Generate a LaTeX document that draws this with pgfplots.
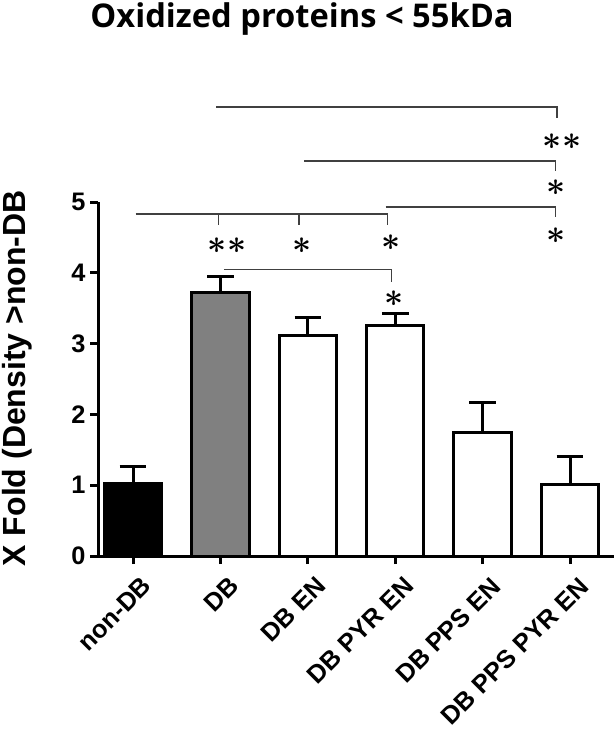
\documentclass[border=0pt]{standalone}
\usepackage{fontspec}
\setmainfont{Liberation Sans}
\newfontfamily\titlefont{Open Sans}
\usepackage{pgfplots}
\pgfplotsset{compat=1.18}

% one px of the reference = 0.75pt
\newcommand\sig{{\fontsize{32}{32}\selectfont\boldmath$\ast$}}
\pgfplotsset{
  sembar/.style={draw=black, line width=2.25pt, bar shift=0pt,
    error bars/.cd, y dir=plus, y explicit,
    error bar style={line width=2.25pt, black},
    error mark options={rotate=90, mark size=10pt, line width=2.25pt, black},
    /pgfplots/.cd},
}
\tikzset{sigline/.style={line width=1pt, black!75}}

\begin{document}
\begin{tikzpicture}
\begin{axis}[
  x=65.55pt, y=53.1pt,
  xmin=-0.4, xmax=5.5, ymin=0, ymax=5,
  enlargelimits=false,
  axis lines=left,
  axis line style={-, line width=2.25pt},
  clip=false,
  ybar, bar width=43pt,
  xtick={0,...,5},
  xticklabels={non-DB, DB, DB EN, DB PYR EN, DB PPS EN, DB PPS PYR EN},
  ytick={0,...,5},
  tick align=outside,
  major tick length=6pt,
  tick style={line width=2.25pt, black},
  /pgf/number format/assume math mode=true,
  ticklabel style={font=\bfseries\fontsize{19}{20}\selectfont},
  x tick label style={rotate=45, anchor=north east, inner sep=0pt, yshift=-10pt, xshift=-2pt},
]
\addplot[sembar, fill=black] coordinates {(0,1.02) +- (0,0.25)};
\addplot[sembar, fill=black!50] coordinates {(1,3.72) +- (0,0.23)};
\addplot[sembar, fill=white] coordinates {(2,3.12) +- (0,0.25) (3,3.26) +- (0,0.16) (4,1.75) +- (0,0.42) (5,1.01) +- (0,0.39)};

% significance brackets
\draw[sigline] (axis cs:0.03,4.83) -- (axis cs:2.91,4.83) -- (axis cs:2.91,4.67);
\draw[sigline] (axis cs:0.98,4.83) -- (axis cs:0.98,4.67);
\draw[sigline] (axis cs:1.90,4.83) -- (axis cs:1.90,4.67);
\draw[sigline] (axis cs:1.04,4.05) -- (axis cs:2.96,4.05) -- (axis cs:2.96,3.87);
\draw[sigline] (axis cs:2.89,4.93) -- (axis cs:4.83,4.93) -- (axis cs:4.83,4.79);
\draw[sigline] (axis cs:1.96,5.58) -- (axis cs:4.83,5.58) -- (axis cs:4.83,5.44);
\draw[sigline] (axis cs:0.95,6.34) -- (axis cs:4.85,6.34) -- (axis cs:4.85,6.19);

\node[inner sep=0pt] at (axis cs:1.075,4.39) {\sig\hspace{1pt}\sig};
\node[inner sep=0pt] at (axis cs:1.93,4.39) {\sig};
\node[inner sep=0pt] at (axis cs:2.95,4.42) {\sig};
\node[inner sep=0pt] at (axis cs:2.99,3.63) {\sig};
\node[inner sep=0pt] at (axis cs:4.84,4.53) {\sig};
\node[inner sep=0pt] at (axis cs:4.84,5.20) {\sig};
\node[inner sep=0pt] at (axis cs:4.91,5.85) {\sig\hspace{1pt}\sig};

\node[rotate=90, inner sep=0pt, font=\bfseries\fontsize{24}{26}\selectfont]
  at (axis cs:-1.32,2.51) {X Fold (Density >non-DB};
\node[anchor=base, inner sep=0pt, font=\titlefont\bfseries\fontsize{24.5}{26}\selectfont]
  at (axis cs:1.934,7.47) {Oxidized proteins < 55kDa};

\coordinate (bl) at (axis cs:-1.522,-2.542);
\coordinate (tr) at (axis cs:5.515,7.853);
\end{axis}
\pgfresetboundingbox
\path[use as bounding box] (bl) rectangle (tr);
\end{tikzpicture}
\end{document}
